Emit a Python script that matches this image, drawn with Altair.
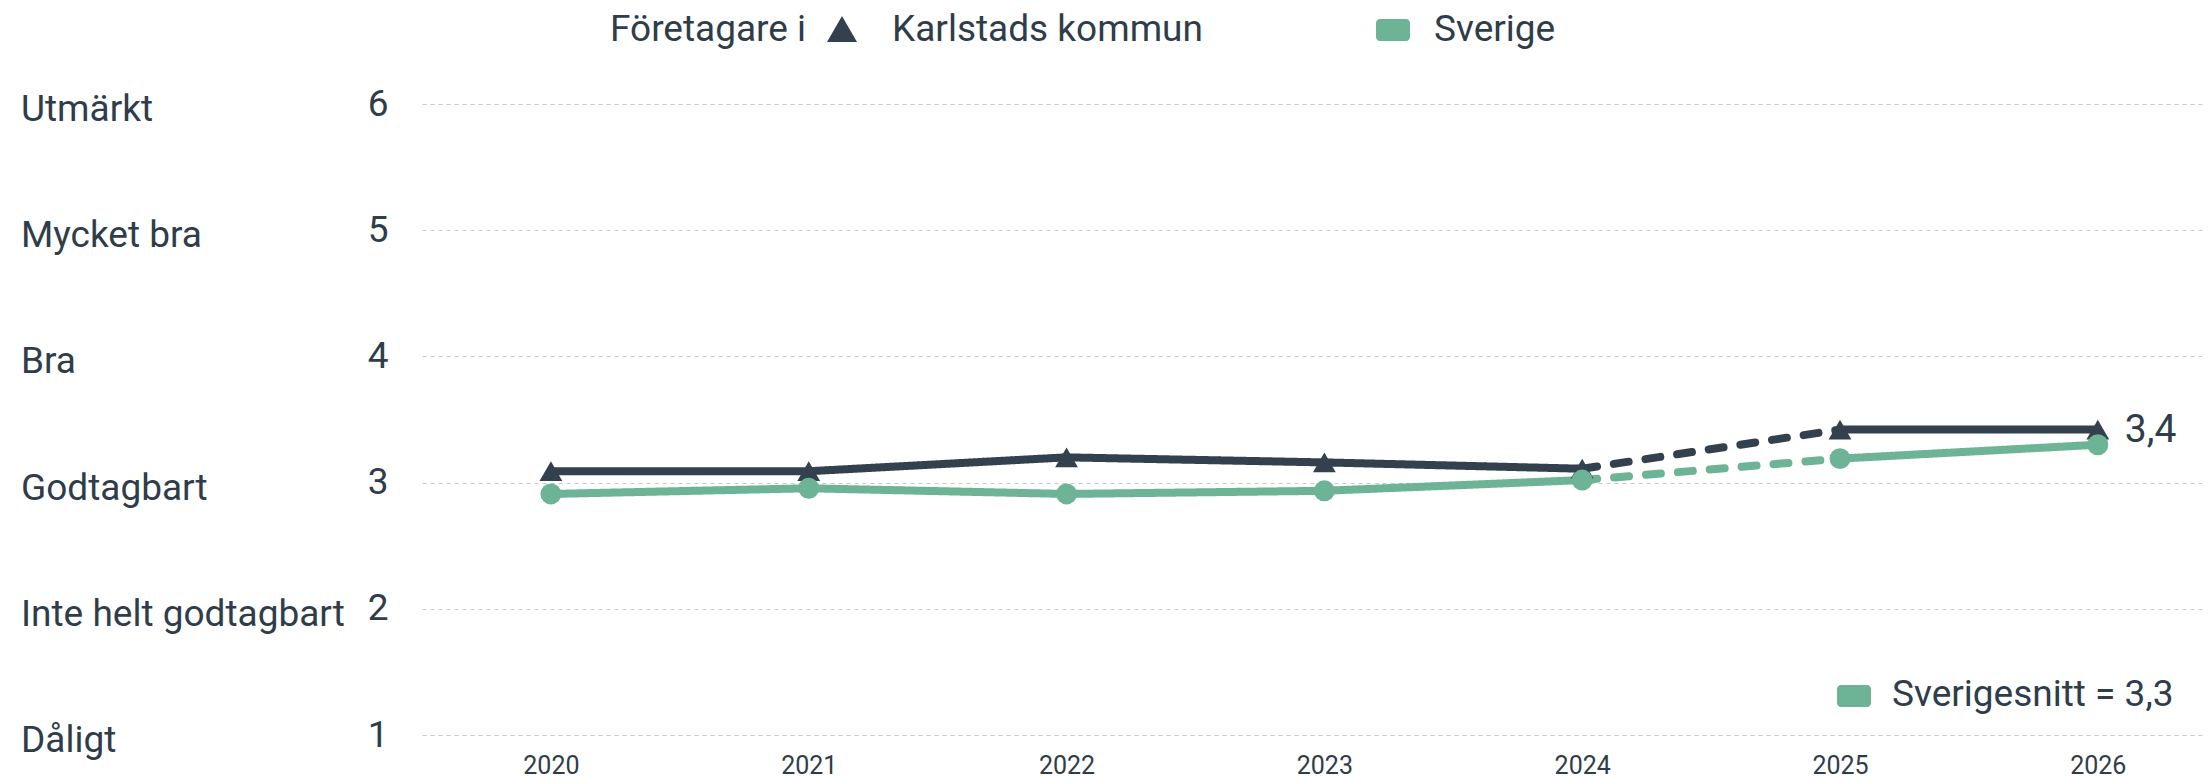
import altair as alt
import pandas as pd

# ---------------- data ----------------
years = [2020, 2021, 2022, 2023, 2024, 2025, 2026]
karlstad = [3.09, 3.09, 3.20, 3.16, 3.11, 3.42, 3.42]
sverige = [2.91, 2.955, 2.91, 2.935, 3.02, 3.19, 3.30]
series_names = ["Karlstads kommun", "Sverige"]
y_ticks = [1, 2, 3, 4, 5, 6]
y_names = ["Dåligt", "Inte helt godtagbart", "Godtagbart", "Bra", "Mycket bra", "Utmärkt"]
legend_title = "Företagare i"
end_label = "3,4"
avg_label = "Sverigesnitt = 3,3"
# line pieces: (id, first year, last year, style)
segments = [("a", 2020, 2024, "solid"), ("b", 2024, 2025, "dashed"), ("c", 2025, 2026, "solid")]

# ---------------- styles ----------------
DARK = "#33414e"
GREEN = "#6db396"
TEXT = "#2f3d4a"
GRID = "#c8c8c8"
FONT = "Roboto"

rows = []
for s, vals in zip(series_names, [karlstad, sverige]):
    for seg, y0, y1, style in segments:
        for yr, v in zip(years, vals):
            if y0 <= yr <= y1:
                rows.append({"series": s, "year": yr, "value": v, "seg": s + seg, "style": style})
lines_df = pd.DataFrame(rows)

pts_df = pd.DataFrame(
    [{"series": s, "year": yr, "value": v}
     for s, vals in zip(series_names, [karlstad, sverige])
     for yr, v in zip(years, vals)]
)
names_df = pd.DataFrame({"tick": y_ticks, "name": y_names})
end_df = pd.DataFrame({"year": [years[-1]], "value": [karlstad[-1]], "label": [end_label]})

x_enc = alt.X(
    "year:Q",
    scale=alt.Scale(domain=[2019.5, 2026.408], nice=False, zero=False),
    axis=alt.Axis(values=years, format="d", grid=False, domain=False, ticks=False,
                  labelFontSize=25, labelPadding=18, labelColor=TEXT, labelFont=FONT, title=None),
)
y_enc = alt.Y(
    "value:Q",
    scale=alt.Scale(domain=[1, 6], nice=False, zero=False),
    axis=alt.Axis(values=y_ticks, format="d", grid=True, gridColor=GRID, gridDash=[4, 4], gridWidth=1,
                  domain=False, ticks=False, labelFontSize=37, labelPadding=34, labelColor=TEXT,
                  labelFont=FONT, title=None),
)
color_scale = alt.Scale(domain=series_names, range=[DARK, GREEN])

lines = alt.Chart(lines_df).mark_line(strokeWidth=8, strokeCap="round").encode(
    x=x_enc,
    y=y_enc,
    color=alt.Color("series:N", scale=color_scale, legend=None),
    strokeDash=alt.StrokeDash("style:N", scale=alt.Scale(domain=["solid", "dashed"], range=[[1, 0], [15, 17]]), legend=None),
    detail="seg:N",
)

points = alt.Chart(pts_df).mark_point(filled=True, opacity=1).encode(
    x="year:Q",
    y="value:Q",
    color=alt.Color("series:N", scale=color_scale, legend=None),
    shape=alt.Shape("series:N", scale=alt.Scale(domain=series_names, range=["triangle-up", "circle"]), legend=None),
    size=alt.Size("series:N", scale=alt.Scale(domain=series_names, range=[520, 440]), legend=None),
)

end_text = alt.Chart(end_df).mark_text(align="left", baseline="middle", dx=27, fontSize=39, font=FONT, color=TEXT).encode(
    x="year:Q", y="value:Q", text="label:N"
)

y_names_text = alt.Chart(names_df).mark_text(align="left", baseline="middle", dy=6, fontSize=37, font=FONT, color=TEXT).encode(
    x=alt.value(-401), y=alt.Y("tick:Q"), text="name:N"
)


def label(txt, x, y, size=37):
    return alt.Chart(pd.DataFrame({"label": [txt]})).mark_text(
        align="left", baseline="middle", fontSize=size, font=FONT, color=TEXT
    ).encode(x=alt.value(x), y=alt.value(y), text="label:N")


def swatch(txt, cx, cy):
    return alt.Chart(pd.DataFrame({"label": [txt]})).mark_rect(cornerRadius=4, color=GREEN).encode(
        x=alt.value(cx - 17), x2=alt.value(cx + 17), y=alt.value(cy - 11), y2=alt.value(cy + 11)
    )


leg_title = label(legend_title, 188, -74)
leg_tri = alt.Chart(pd.DataFrame({"label": [series_names[0]]})).mark_point(
    shape="triangle-up", filled=True, opacity=1, size=900, color=DARK
).encode(x=alt.value(420), y=alt.value(-75))
leg_k = label(series_names[0], 470, -74)
leg_sq = swatch(series_names[1], 971, -74)
leg_s = label(series_names[1], 1012, -74)
avg_sq = swatch(avg_label, 1432, 592)
avg_t = label(avg_label, 1470, 591)

chart = alt.layer(
    y_names_text, lines, points, end_text,
    leg_title, leg_tri, leg_k, leg_sq, leg_s, avg_sq, avg_t,
).properties(
    width=1781,
    height=631,
    autosize=alt.AutoSizeParams(type="none"),
    padding={"left": 414, "top": 96, "right": 0, "bottom": 50},
).configure_view(stroke=None)

chart.save("out.html", embed_options={"renderer": "svg", "actions": False})
